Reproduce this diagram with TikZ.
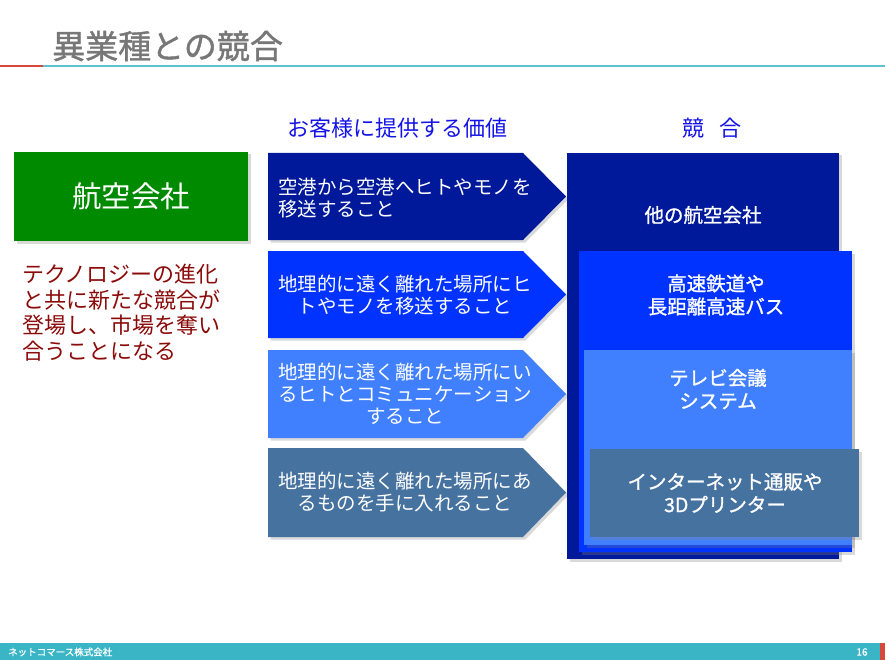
\documentclass[tikz,border=0pt]{standalone}
\usepackage{fontspec}
\setmainfont{Noto Sans CJK JP}
\newfontfamily\heavyjp[FakeBold=1.2]{Noto Sans CJK JP}
\usetikzlibrary{shadows}

\definecolor{titlegray}{HTML}{777777}
\definecolor{linered}{HTML}{D9473B}
\definecolor{lineteal}{HTML}{5CC2CE}
\definecolor{footteal}{HTML}{3AB5C6}
\definecolor{airgreen}{HTML}{008A00}
\definecolor{navy}{HTML}{00199A}
\definecolor{brightblue}{HTML}{0033FF}
\definecolor{skyblue}{HTML}{4080FF}
\definecolor{steel}{HTML}{46729F}
\definecolor{darkred}{HTML}{8B0A0A}
\definecolor{headblue}{HTML}{1414E6}

\begin{document}
\begin{tikzpicture}[x=1pt, y=-1pt,
  shade box/.style={drop shadow={shadow xshift=2.5pt, shadow yshift=-2.5pt, opacity=0.3}},
  valtext/.style={text=white, font=\fontsize{19.5}{22}\selectfont, align=center, inner sep=0pt},
  comptext/.style={text=white, font=\heavyjp\fontsize{19.5}{23}\selectfont, align=center, inner sep=0pt},
  headtext/.style={text=headblue, font=\fontsize{22}{26}\selectfont, inner sep=0pt}]
	\useasboundingbox (0,0) rectangle (885,660);
	% title and rule
	\node[text=titlegray, font=\heavyjp\fontsize{33}{36}\selectfont, anchor=west, inner sep=0pt] (title) at (52,46) {異業種との競合};
	\fill[linered] (0,65) rectangle (43,67);
	\fill[lineteal] (43,65) rectangle (885,67);
	% footer
	\fill[footteal] (0,643) rectangle (885,660);
	\fill[linered] (880,643) rectangle (885,660);
	\node[text=white, font=\heavyjp\fontsize{9.5}{10}\selectfont, anchor=west, inner sep=0pt] (company) at (8,652) {ネットコマース株式会社};
	\node[text=white, font=\heavyjp\fontsize{10}{10}\selectfont, inner sep=0pt] (page) at (862,652) {16};
	% column heads
	\node[headtext, anchor=west] (valuehead) at (287,128) {お客様に提供する価値};
	\node[headtext] (comphead) at (712,128) {競\hspace{0.7em}合};
	% airline box
	\fill[airgreen, shade box] (14,152) rectangle (248,241);
	\node[text=white, font=\fontsize{29.5}{32}\selectfont, inner sep=0pt] (airline) at (131,196) {航空会社};
	\node[text=darkred, font=\fontsize{22}{25.5}\selectfont, align=left, anchor=north west, inner sep=0pt] (note) at (22,264)
		{テクノロジーの進化\\と共に新たな競合が\\登場し、市場を奪い\\合うことになる};
	% value arrows
	\fill[navy, shade box] (268,153) -- (523,153) -- (566,196.5) -- (523,240) -- (268,240) -- cycle;
	\fill[brightblue, shade box] (268,251) -- (523,251) -- (566,294.5) -- (523,338) -- (268,338) -- cycle;
	\fill[skyblue, shade box] (268,350) -- (523,350) -- (566,394) -- (523,438) -- (268,438) -- cycle;
	\fill[steel, shade box] (268,448) -- (523,448) -- (566,492.5) -- (523,537) -- (268,537) -- cycle;
	\node[valtext, align=left, anchor=west] (v1) at (278,198) {空港から空港へヒトやモノを\\移送すること};
	\node[valtext] (v2) at (405,295) {地理的に遠く離れた場所にヒ\\トやモノを移送すること};
	\node[valtext] (v3) at (405,394) {地理的に遠く離れた場所にい\\るヒトとコミュニケーション\\すること};
	\node[valtext] (v4) at (405,492) {地理的に遠く離れた場所にあ\\るものを手に入れること};
	% competitors
	\fill[navy, shade box] (567,153) rectangle (839,559);
	\fill[brightblue, shade box] (579,251) rectangle (852,552);
	\fill[skyblue, shade box] (584,350) rectangle (852,545);
	\fill[steel, shade box] (590,449) rectangle (859,537);
	\node[comptext] (c1) at (703,215) {他の航空会社};
	\node[comptext] (c2) at (716,295) {高速鉄道や\\長距離高速バス};
	\node[comptext] (c3) at (718,389) {テレビ会議\\システム};
	\node[comptext] (c4) at (725,493) {インターネット通販や\\3Dプリンター};
\end{tikzpicture}
\end{document}
